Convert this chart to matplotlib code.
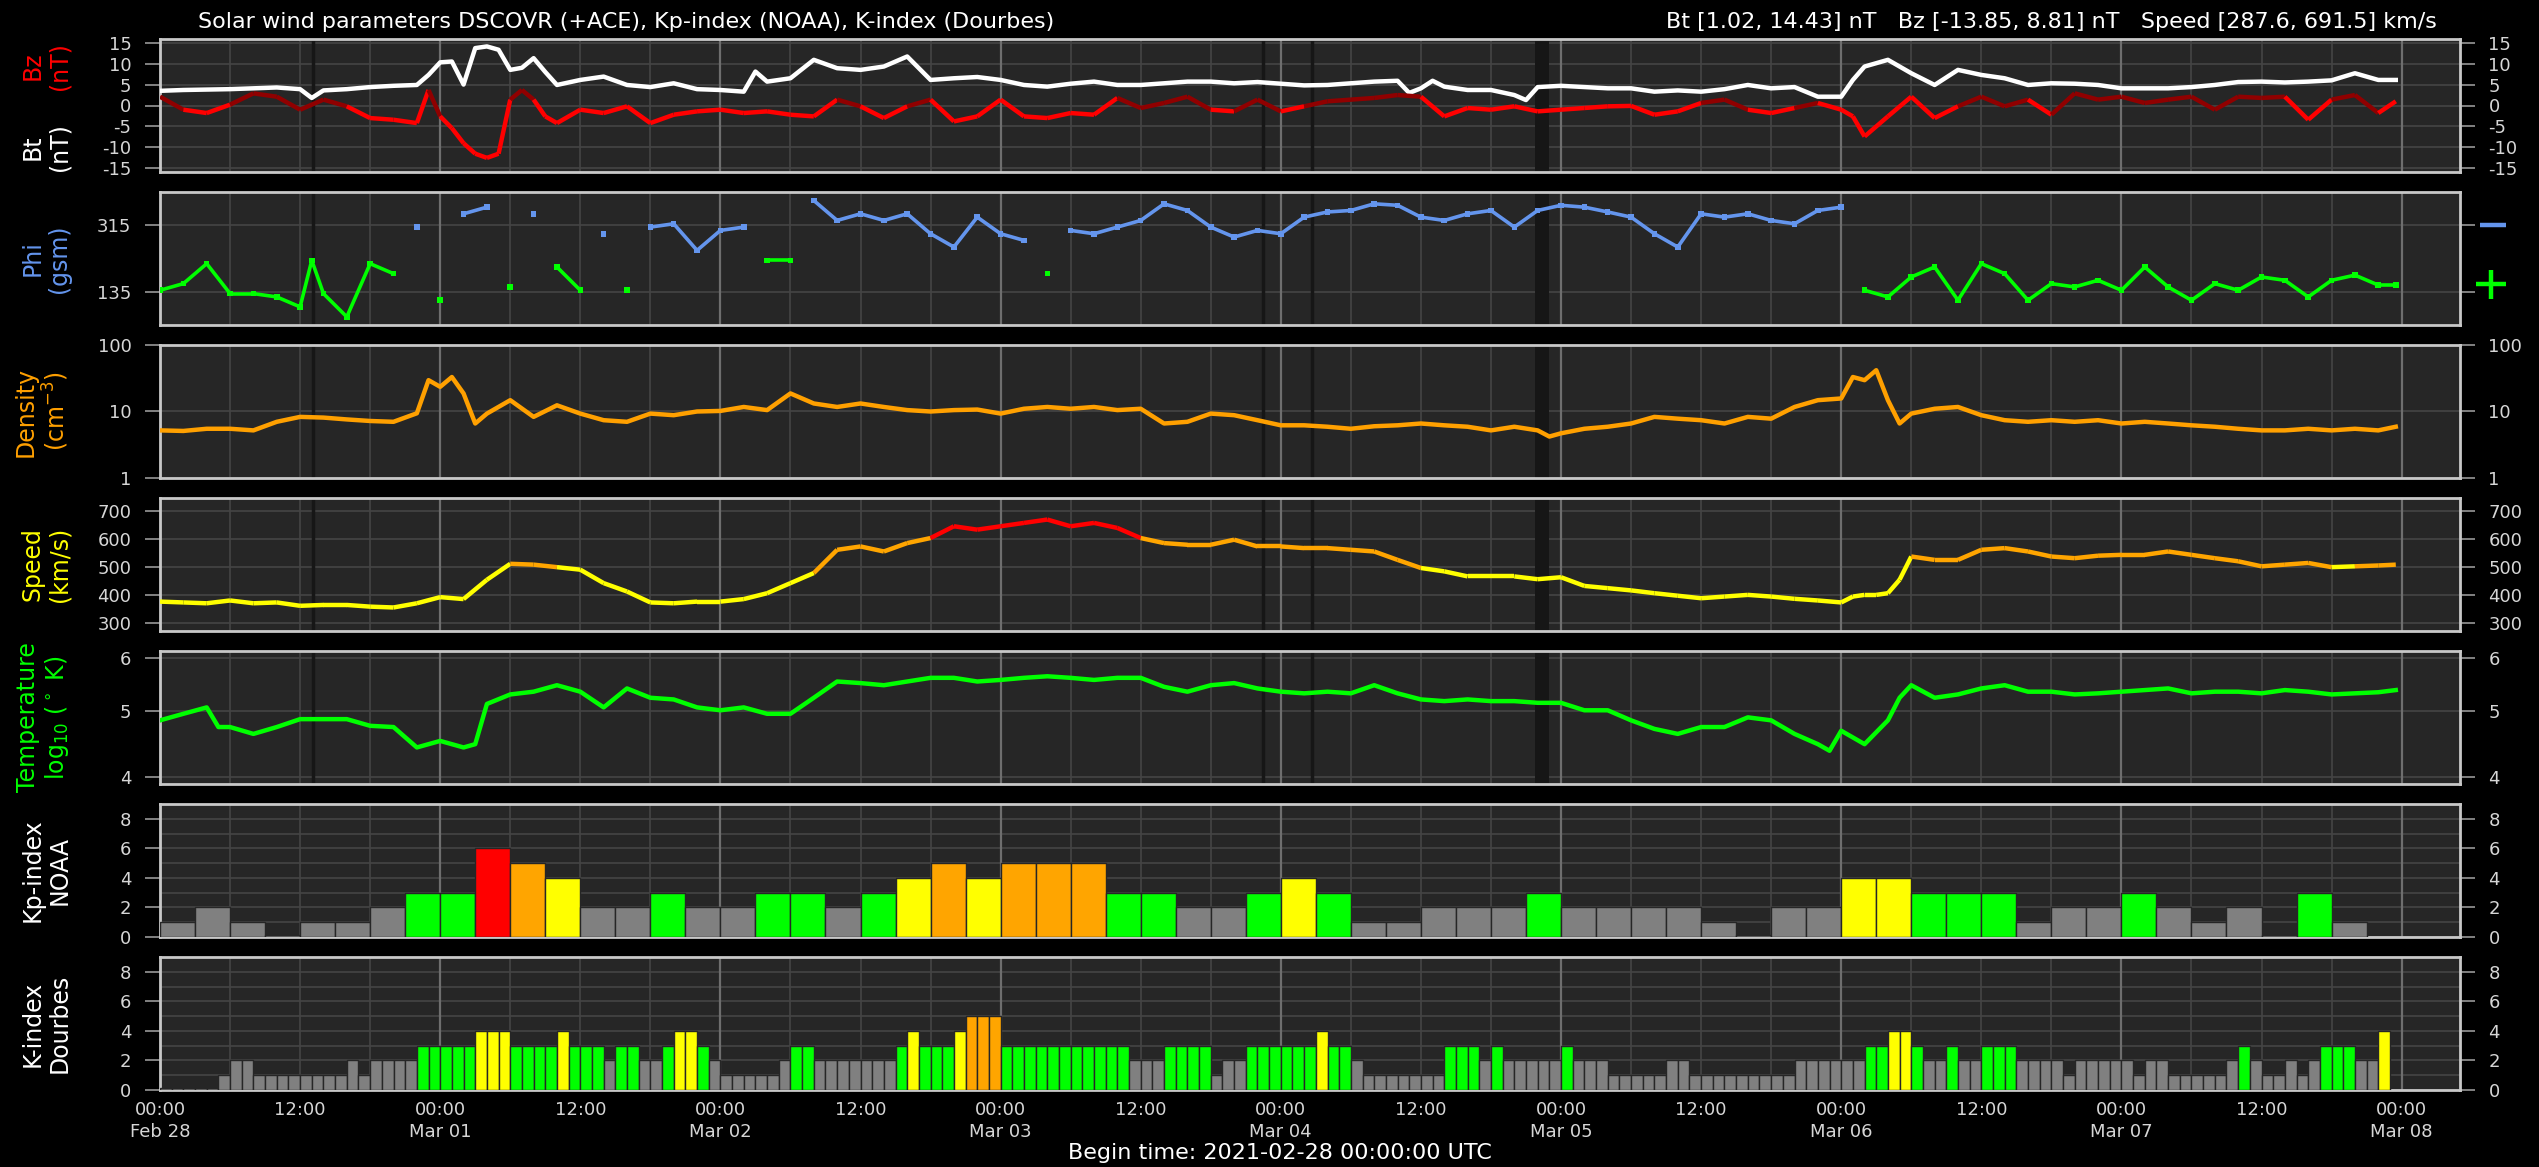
import numpy as np
import matplotlib
matplotlib.use('Agg')
import matplotlib.pyplot as plt
from matplotlib.collections import LineCollection
from matplotlib.ticker import NullLocator

plt.rcParams['font.family'] = ['DejaVu Sans']
plt.rcParams['axes.unicode_minus'] = False

# ---- data (time in hours since 2021-02-28 00:00 UTC) ----
day_names = ['Feb 28', 'Mar 01', 'Mar 02', 'Mar 03', 'Mar 04', 'Mar 05', 'Mar 06', 'Mar 07', 'Mar 08']

bt_hours = [0, 2, 4, 6, 8, 10, 12, 13, 14, 16, 18, 20, 22, 23, 24, 25, 26, 27, 28, 29,
            30, 31, 32, 33, 34, 36, 38, 40, 42, 44, 46, 48, 50, 51, 52, 54, 56, 58, 60, 62,
            64, 66, 68, 70, 72, 74, 76, 78, 80, 82, 84, 86, 88, 90, 92, 94, 96, 98, 100, 102,
            104, 106, 107, 108, 109, 110, 112, 114, 116, 117, 118, 120, 122, 124, 126, 128, 130, 132, 134, 136,
            138, 140, 142, 144, 145, 146, 148, 150, 152, 154, 156, 158, 160, 162, 164, 166, 168, 170, 172, 174,
            176, 178, 180, 182, 184, 186, 188, 190, 191.5]
bt_values = [3.5, 3.7, 3.8, 3.9, 4.1, 4.3, 3.9, 1.8, 3.6, 3.9, 4.4, 4.7, 4.9, 7.3, 10.3, 10.5, 5.0, 13.7, 14.1, 13.3,
             8.5, 9.0, 11.3, 8.0, 4.9, 6.1, 6.9, 4.9, 4.4, 5.3, 3.9, 3.7, 3.3, 8.1, 5.7, 6.5, 10.9, 8.9, 8.5, 9.3,
             11.7, 6.1, 6.5, 6.8, 6.1, 4.9, 4.5, 5.2, 5.7, 4.9, 4.9, 5.3, 5.7, 5.7, 5.3, 5.6, 5.2, 4.8, 4.9, 5.3,
             5.7, 5.9, 3.0, 4.1, 5.9, 4.5, 3.7, 3.7, 2.5, 1.3, 4.4, 4.7, 4.4, 4.1, 4.1, 3.3, 3.6, 3.3, 3.9, 4.9,
             4.1, 4.4, 2.1, 2.1, 6.1, 9.3, 10.9, 7.7, 4.9, 8.5, 7.3, 6.5, 4.9, 5.3, 5.2, 4.9, 4.1, 4.1, 4.1, 4.4,
             4.9, 5.6, 5.7, 5.5, 5.7, 6.0, 7.7, 6.1, 6.1]

bz_hours = ([0, 2, 4, 6, 8, 10, 12, 14, 16, 18, 20, 22, 23, 24, 25, 26, 27, 28, 29, 30, 31, 32, 33, 34]
            + list(range(36, 145, 2)) + [145] + list(range(146, 191, 2)) + [191.5])
bz_values = [2.1, -1, -1.8, 0.2, 2.9, 2.1, -1, 1.4, -0.2, -3, -3.4, -4.2,
             3.7, -2.6, -5.4, -9, -11.5, -12.5, -11.5, 1.4, 3.7, 1.4, -2.6, -4.2,
             -1, -1.8, -0.2, -4.2, -2.2, -1.4, -1, -1.8, -1.4, -2.2,
             -2.6, 1.4, -0.2, -3, -0.2, 1.4, -3.8, -2.6, 1.4, -2.6,
             -3, -1.8, -2.2, 1.8, -0.6, 0.6, 2.1, -1, -1.4, 1.4,
             -1.4, -0.2, 1, 1.4, 1.8, 2.5, 2.1, -2.6, -0.6, -1,
             -0.2, -1.4, -1, -0.6, -0.2, -0.1, -2.2, -1.4, 0.6, 1.4,
             -1, -1.8, -0.6, 0.6, -1,
             -2.6,
             -7.4, -2.6, 2.1, -3, -0.2, 2.1, -0.2, 1.4, -2.2, 2.9,
             1.4, 2.1, 0.6, 1.4, 2.1, -1, 2.1, 1.8, 2.1, -3.4,
             1.4, 2.5, -1.8,
             1.0]

phi_hours = [0, 2, 4, 6, 8, 10, 12, 13] + list(range(14, 191, 2)) + [191.5]
phi_values = [139, 157, 211, 130, 130, 121, 94, 220,
              130, 67, 211, 184, 310, 112, 346, 364, 148, 346, 202, 139, 292, 139, 310, 319, 247, 301,
              310, 220, 220, 382, 328, 346, 328, 346, 292, 256, 337, 292, 274, 184, 301, 292, 310, 328,
              373, 355, 310, 283, 301, 292, 337, 351, 355, 373, 369, 337, 328, 346, 355, 310, 355, 369,
              364, 351, 337, 292, 256, 346, 337, 346, 328, 319, 355, 364, 139, 121, 175, 202, 112, 211,
              184, 112, 157, 148, 166, 139, 202, 148, 112, 157, 139, 175, 166, 121, 166, 180, 153,
              153]

dens_hours = (list(range(0, 23, 2)) + [23, 24, 25, 26, 27, 28] + list(range(30, 119, 2)) + [119]
              + list(range(120, 145, 2)) + [145, 146, 147, 148, 149] + list(range(150, 191, 2)) + [191.5])
dens_values = [5.2, 5.1, 5.5, 5.5, 5.2, 7.0, 8.3, 8.1, 7.6, 7.2, 7.0, 9.4,
               29.6, 23.5, 33, 18.7, 6.6, 9.3,
               14.8, 8.3, 12.4, 9.3, 7.4, 7.0, 9.3, 8.8, 10, 10.2,
               11.7, 10.5, 18.7, 13.2, 11.7, 13.2, 11.7, 10.5, 10, 10.5,
               10.7, 9.3, 11, 11.7, 11, 11.7, 10.5, 11, 6.6, 7.0,
               9.3, 8.8, 7.4, 6.2, 6.2, 5.9, 5.5, 6.0, 6.2, 6.6,
               6.2, 5.9, 5.2, 5.9, 5.2,
               4.2,
               4.7, 5.5, 5.9, 6.6, 8.3, 7.8, 7.4, 6.6, 8.3, 7.8, 11.7, 14.8, 15.7,
               33, 29.6, 41.8, 14.8, 6.6,
               9.3, 11, 11.7, 8.8, 7.4, 7.0, 7.4, 7.0, 7.4, 6.6, 7.0, 6.6, 6.2, 5.9, 5.5, 5.2, 5.2, 5.5,
               5.2, 5.5, 5.2,
               5.9]

speed_hours = list(range(0, 145, 2)) + [145, 146, 147, 148, 149] + list(range(150, 191, 2)) + [191.5]
speed_values = [375, 372, 369, 379, 369, 372, 360, 363, 363, 357,
                354, 369, 391, 384, 453, 510, 507, 498, 489, 441,
                411, 372, 369, 375, 375, 384, 405, 441, 477, 560,
                572, 554, 584, 602, 644, 632, 644, 656, 668, 644,
                656, 638, 602, 584, 578, 578, 596, 572, 572, 566,
                566, 560, 554, 524, 495, 483, 465, 465, 465, 455,
                462, 431, 423, 415, 405, 396, 387, 393, 399, 393,
                385, 379, 372,
                393, 399, 399, 405, 453,
                536, 524, 524, 560, 566, 554, 536, 530, 539, 542, 542, 554, 542, 530, 519, 501,
                507, 513, 498, 501, 504,
                507]

temp_hours = ([0, 2, 4, 5, 6, 8, 10, 12, 14, 16, 18, 20, 22, 23, 24, 26, 27, 28]
              + list(range(30, 143, 2)) + [143, 144, 146, 148, 149] + list(range(150, 191, 2)) + [191.5])
temp_values = [4.85, 4.96, 5.07, 4.74, 4.74, 4.63, 4.74, 4.87, 4.87, 4.87, 4.76, 4.74, 4.42, 4.47, 4.52, 4.42, 4.47, 5.13,
               5.30, 5.35, 5.47, 5.35, 5.07, 5.41, 5.24, 5.21, 5.07, 5.02,
               5.07, 4.96, 4.96, 5.24, 5.54, 5.51, 5.47, 5.54, 5.61, 5.61,
               5.54, 5.57, 5.61, 5.64, 5.61, 5.57, 5.61, 5.61, 5.44, 5.35,
               5.47, 5.51, 5.41, 5.35, 5.32, 5.35, 5.32, 5.47, 5.32, 5.21,
               5.18, 5.21, 5.18, 5.18, 5.15, 5.15, 5.02, 5.02, 4.85, 4.71,
               4.63, 4.74, 4.74, 4.90, 4.85, 4.63, 4.47,
               4.37, 4.68, 4.47, 4.85, 5.24,
               5.47, 5.24, 5.30, 5.41, 5.47, 5.35, 5.35, 5.30, 5.32, 5.35, 5.38, 5.41, 5.32, 5.35, 5.35,
               5.32, 5.38, 5.35, 5.30, 5.32, 5.34,
               5.38]

# NOAA Kp, 3-hour intervals starting Feb 28 00:00 (last interval of Mar 07 not yet available)
kp_values = [1, 2, 1, 0, 1, 1, 2, 3,
             3, 6, 5, 4, 2, 2, 3, 2,
             2, 3, 3, 2, 3, 4, 5, 4,
             5, 5, 5, 3, 3, 2, 2, 3,
             4, 3, 1, 1, 2, 2, 2, 3,
             2, 2, 2, 2, 1, 0, 2, 2,
             4, 4, 3, 3, 3, 1, 2, 2,
             3, 2, 1, 2, 0, 3, 1]

# Dourbes K, hourly starting Feb 28 00:00
k_values = [0, 0, 0, 0, 0, 1, 2, 2, 1, 1, 1, 1, 1, 1, 1, 1, 2, 1, 2, 2, 2, 2, 3, 3,
            3, 3, 3, 4, 4, 4, 3, 3, 3, 3, 4, 3, 3, 3, 2, 3, 3, 2, 2, 3, 4, 4, 3, 2,
            1, 1, 1, 1, 1, 2, 3, 3, 2, 2, 2, 2, 2, 2, 2, 3, 4, 3, 3, 3, 4, 5, 5, 5,
            3, 3, 3, 3, 3, 3, 3, 3, 3, 3, 3, 2, 2, 2, 3, 3, 3, 3, 1, 2, 2, 3, 3, 3,
            3, 3, 3, 4, 3, 3, 2, 1, 1, 1, 1, 1, 1, 1, 3, 3, 3, 2, 3, 2, 2, 2, 2, 2,
            3, 2, 2, 2, 1, 1, 1, 1, 1, 2, 2, 1, 1, 1, 1, 1, 1, 1, 1, 1, 2, 2, 2, 2,
            2, 2, 3, 3, 4, 4, 3, 2, 2, 3, 2, 2, 3, 3, 3, 2, 2, 2, 2, 1, 2, 2, 2, 2,
            2, 1, 2, 2, 1, 1, 1, 1, 1, 2, 3, 2, 1, 1, 2, 1, 2, 3, 3, 3, 2, 2, 4]

# data gaps (hours)
gap_lines = [13.1, 94.5, 98.7]
gap_band = (117.8, 119.0)

BG = '#262626'
GRID = '#454545'
DAYLINE = '#6e6e6e'
TICKLBL = '#d6d6d6'
BLUE = '#6495ed'
GREEN = '#00ff00'
ORANGE = '#ffa000'
LW = 3.2


def segments(t, v):
    pts = np.column_stack([t, v])
    return np.stack([pts[:-1], pts[1:]], axis=1)


def k_color(v):
    if v >= 6:
        return '#ff0000'
    if v >= 5:
        return '#ffa500'
    if v >= 4:
        return '#ffff00'
    if v >= 3:
        return '#00ff00'
    return '#808080'


W, H = 2539, 1167
fig = plt.figure(figsize=(W / 100, H / 100), dpi=100, facecolor='black')
left, width = 160 / W, 2300 / W
tops = [39 + 153 * i for i in range(7)]
axes = []
for tp in tops:
    axes.append(fig.add_axes([left, 1 - (tp + 133) / H, width, 133 / H]))

for i, ax in enumerate(axes):
    ax.set_facecolor(BG)
    ax.set_axisbelow(True)
    ax.set_xlim(0, 197)
    ax.set_xticks(range(0, 193, 12))
    ax.set_xticks(range(0, 198, 6), minor=True)
    ax.grid(True, which='both', axis='x', color=GRID, lw=1.2)
    ax.grid(True, which='major', axis='y', color=GRID, lw=1.2)
    for d in range(0, 193, 24):
        ax.axvline(d, color=DAYLINE, lw=1.6, zorder=0.8)
    if i < 5:
        for g in gap_lines:
            ax.axvline(g, color='#161616', lw=2.5, zorder=1)
        ax.axvspan(gap_band[0], gap_band[1], color='#161616', lw=0, zorder=1)
    for sp in ax.spines.values():
        sp.set_color('#c8c8c8')
        sp.set_linewidth(2)
    ax.tick_params(axis='y', which='major', direction='out', length=10.5, width=1.3, color='#8c8c8c',
                   labelcolor=TICKLBL, labelsize=13, pad=10, left=True, right=True,
                   labelleft=True, labelright=True)
    ax.tick_params(axis='y', which='minor', length=0)
    ax.tick_params(axis='x', which='both', length=0, labelsize=13, labelcolor=TICKLBL, pad=8)
    if i < 6:
        ax.tick_params(axis='x', labelbottom=False)


def ylab(ax, s, color, y=0.5):
    ax.text(-0.0385, y, s, transform=ax.transAxes, rotation=90, ha='right', va='center',
            multialignment='center', color=color, fontsize=17, linespacing=1.15)


# Bt / Bz
ax = axes[0]
ax.plot(bt_hours, bt_values, color='white', lw=LW, zorder=3)
bz = np.array(bz_values, dtype=float)
mid = (bz[:-1] + bz[1:]) / 2
bz_cols = ['#ff0000' if m < 0 else '#900000' for m in mid]
ax.add_collection(LineCollection(segments(bz_hours, bz_values), colors=bz_cols, linewidths=LW, zorder=4))
ax.set_ylim(-15.87, 15.87)
ax.set_yticks([-15, -10, -5, 0, 5, 10, 15])
ylab(ax, 'Bz\n(nT)', '#ff0000', 0.80)
ylab(ax, 'Bt\n(nT)', 'white', 0.19)

# Phi: connect consecutive samples that stay in the same sector
ax = axes[1]
ph = np.array(phi_values, dtype=float)
pt = np.array(phi_hours, dtype=float)
away = ph >= 225
segs, cols = [], []
for j in range(len(ph) - 1):
    if away[j] == away[j + 1]:
        segs.append([[pt[j], ph[j]], [pt[j + 1], ph[j + 1]]])
        cols.append(BLUE if away[j] else GREEN)
ax.add_collection(LineCollection(segs, colors=cols, linewidths=2.6, zorder=3))
ax.scatter(pt, ph, s=16, marker='s', c=[BLUE if a else GREEN for a in away], lw=0, zorder=4)
ax.set_ylim(45, 405)
ax.set_yticks([135, 315])
ax.tick_params(axis='y', labelright=False)
tr = ax.get_yaxis_transform()
ax.plot([1.0087, 1.0200], [315, 315], transform=tr, color=BLUE, lw=3.2, clip_on=False,
        solid_capstyle='butt')
ax.plot([1.0070, 1.0200], [155, 155], transform=tr, color=GREEN, lw=3.2, clip_on=False,
        solid_capstyle='butt')
ax.plot([1.0135, 1.0135], [115, 195], transform=tr, color=GREEN, lw=3.2, clip_on=False,
        solid_capstyle='butt')
ylab(ax, 'Phi\n(gsm)', BLUE)

# Density
ax = axes[2]
ax.set_yscale('log')
ax.plot(dens_hours, dens_values, color=ORANGE, lw=LW, zorder=3)
ax.set_ylim(1, 100)
ax.set_yticks([1, 10, 100], ['1', '10', '100'])
ax.yaxis.set_minor_locator(NullLocator())
ylab(ax, 'Density\n(cm$^{-3}$)', ORANGE)

# Speed
ax = axes[3]
sp_v = np.array(speed_values, dtype=float)
mid = (sp_v[:-1] + sp_v[1:]) / 2
sp_cols = ['#ff0000' if m >= 600 else ('#ffa500' if m >= 500 else '#ffff00') for m in mid]
ax.add_collection(LineCollection(segments(speed_hours, speed_values), colors=sp_cols, linewidths=LW, zorder=3))
ax.set_ylim(270, 745)
ax.set_yticks([300, 400, 500, 600, 700])
ylab(ax, 'Speed\n(km/s)', '#ffff00')

# Temperature
ax = axes[4]
ax.set_yscale('log')
ax.plot(temp_hours, temp_values, color=GREEN, lw=LW, zorder=3)
ax.set_ylim(3.9, 6.15)
ax.set_yticks([4, 5, 6], ['4', '5', '6'])
ax.yaxis.set_minor_locator(NullLocator())
ylab(ax, 'Temperature\nlog$_{10}$ ($^\\circ$ K)', GREEN)

# Kp NOAA
ax = axes[5]
kp_x = [3 * j for j in range(len(kp_values))]
ax.bar(kp_x, [max(v, 0.12) for v in kp_values], width=3, align='edge',
       color=[k_color(v) for v in kp_values], edgecolor='#262626', linewidth=1.0, zorder=3)
ylab(ax, 'Kp-index\nNOAA', 'white')

# K Dourbes
ax = axes[6]
k_x = list(range(len(k_values)))
ax.bar(k_x, [max(v, 0.12) for v in k_values], width=1, align='edge',
       color=[k_color(v) for v in k_values], edgecolor='#262626', linewidth=1.0, zorder=3)
ylab(ax, 'K-index\nDourbes', 'white')

for ax in axes[5:]:
    ax.set_ylim(0, 9)
    ax.set_yticks([0, 2, 4, 6, 8])
    ax.set_yticks([1, 3, 5, 7], minor=True)
    ax.grid(True, which='minor', axis='y', color=GRID, lw=1.2)

xlabels = []
for h in range(0, 193, 12):
    if h % 24 == 0:
        xlabels.append('00:00\n' + day_names[h // 24])
    else:
        xlabels.append('12:00')
axes[6].set_xticklabels(xlabels, linespacing=1.25)

fig.text(198 / W, 1 - 22 / H,
         'Solar wind parameters DSCOVR (+ACE), Kp-index (NOAA), K-index (Dourbes)',
         ha='left', va='center', color='white', fontsize=16)
fig.text(2437 / W, 1 - 22 / H,
         'Bt [1.02, 14.43] nT   Bz [-13.85, 8.81] nT   Speed [287.6, 691.5] km/s',
         ha='right', va='center', color='white', fontsize=16)
fig.text(1280 / W, 1 - 1153 / H, 'Begin time: 2021-02-28 00:00:00 UTC',
         ha='center', va='center', color='white', fontsize=16)

fig.savefig('out.png', dpi=100, facecolor='black')
